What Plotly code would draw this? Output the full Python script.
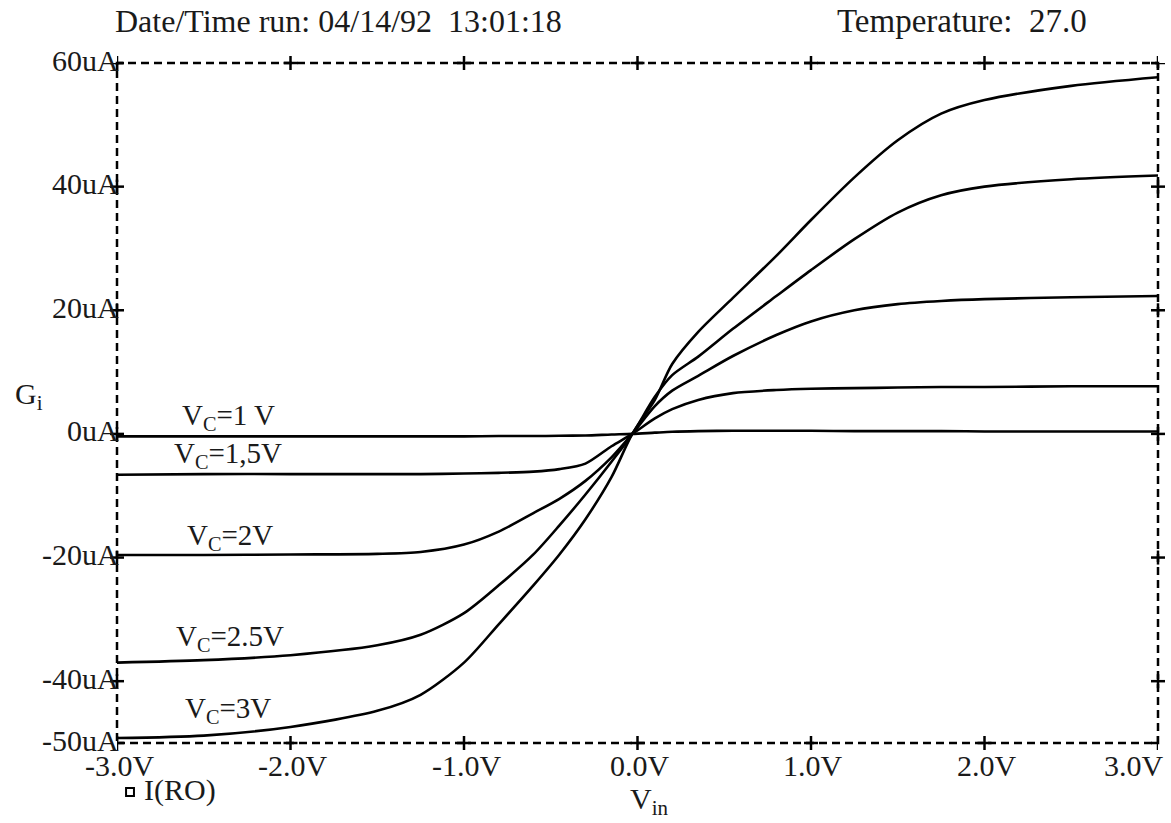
import plotly.graph_objects as go

# ---------------- data ----------------
vin = [-3.0, -2.5, -2.0, -1.5, -1.25, -1.0, -0.8, -0.6, -0.45, -0.3, -0.15, -0.03,
       0.1, 0.2, 0.35, 0.55, 0.8, 1.0, 1.25, 1.5, 1.75, 2.0, 2.5, 3.0]

i_vc1 = [-0.4, -0.4, -0.4, -0.4, -0.4, -0.4, -0.35, -0.35, -0.3, -0.25, -0.1, 0.0,
         0.2, 0.35, 0.45, 0.5, 0.5, 0.5, 0.45, 0.45, 0.45, 0.4, 0.4, 0.4]
i_vc15 = [-6.6, -6.5, -6.5, -6.5, -6.5, -6.4, -6.3, -6.1, -5.7, -4.8, -2.0, 0.0,
          2.5, 4.0, 5.5, 6.6, 7.1, 7.3, 7.4, 7.5, 7.6, 7.6, 7.7, 7.7]
i_vc2 = [-19.6, -19.6, -19.5, -19.4, -19.1, -17.9, -15.8, -12.8, -10.5, -7.6, -3.8, 0.0,
         4.5, 7.0, 9.4, 12.6, 16.0, 18.2, 20.0, 21.0, 21.5, 21.8, 22.1, 22.3]
i_vc25 = [-37.0, -36.6, -35.8, -34.2, -32.5, -29.0, -24.5, -19.5, -14.8, -9.8, -4.5, 0.0,
          6.0, 9.5, 12.5, 17.0, 22.3, 26.5, 31.5, 35.8, 38.6, 40.0, 41.2, 41.8]
i_vc3 = [-49.2, -48.8, -47.4, -44.8, -42.2, -37.0, -30.8, -24.5, -19.5, -13.8, -7.0, 0.0,
         5.5, 11.3, 16.5, 22.0, 28.8, 34.6, 41.5, 47.5, 51.8, 54.0, 56.3, 57.7]

series = [i_vc1, i_vc15, i_vc2, i_vc25, i_vc3]
curve_labels = ["V<sub>C</sub>=1 V", "V<sub>C</sub>=1,5V", "V<sub>C</sub>=2V",
                "V<sub>C</sub>=2.5V", "V<sub>C</sub>=3V"]
label_x = [-2.36, -2.36, -2.35, -2.35, -2.36]
label_y = [2.7, -3.4, -16.7, -33.0, -44.7]

x_ticks = [-3.0, -2.0, -1.0, 0.0, 1.0, 2.0, 3.0]
x_tick_text = ["-3.0V", "-2.0V", "-1.0V", "0.0V", "1.0V", "2.0V", "3.0V"]
y_ticks = [60, 40, 20, 0, -20, -40, -50]
y_tick_text = ["60uA", "40uA", "20uA", "0uA", "-20uA", "-40uA", "-50uA"]
y_cross_ticks = [60, 40, 20, 0, -20, -40]

FONT = "Liberation Serif, Times New Roman, serif"
INK = "#1a1a1a"

fig = go.Figure()
for ys in series:
    fig.add_trace(go.Scatter(x=vin, y=ys, mode="lines",
                             line=dict(color="black", width=2.6, shape="spline", smoothing=0.8),
                             showlegend=False, hoverinfo="skip"))

shapes = []
# dashed frame
shapes.append(dict(type="rect", xref="paper", yref="paper", x0=0, x1=1, y0=0, y1=1,
                   line=dict(color="black", width=2.5, dash="8px,5px")))
# "+" ticks on top and bottom
for xv in x_ticks:
    for yp in (0, 1):
        shapes.append(dict(type="line", xref="x", yref="paper", xsizemode="pixel", ysizemode="pixel",
                           xanchor=xv, yanchor=yp, x0=0, x1=0, y0=-7, y1=7,
                           line=dict(color="black", width=2.5)))
        shapes.append(dict(type="line", xref="x", yref="paper", xsizemode="pixel", ysizemode="pixel",
                           xanchor=xv, yanchor=yp, x0=-7, x1=7, y0=0, y1=0,
                           line=dict(color="black", width=2.5)))
# "+" ticks on left and right
for yv in y_cross_ticks:
    for xp in (0, 1):
        shapes.append(dict(type="line", xref="paper", yref="y", xsizemode="pixel", ysizemode="pixel",
                           xanchor=xp, yanchor=yv, x0=-7, x1=7, y0=0, y1=0,
                           line=dict(color="black", width=2.5)))
        shapes.append(dict(type="line", xref="paper", yref="y", xsizemode="pixel", ysizemode="pixel",
                           xanchor=xp, yanchor=yv, x0=0, x1=0, y0=-7, y1=7,
                           line=dict(color="black", width=2.5)))
# legend square
shapes.append(dict(type="rect", xref="paper", yref="paper",
                   x0=0.0087, x1=0.0163, y0=-0.0779, y1=-0.0662,
                   line=dict(color="black", width=2), fillcolor="white"))

annotations = []
for xv, txt in zip(x_ticks, x_tick_text):
    last = xv == x_ticks[-1]
    annotations.append(dict(x=xv, y=0, xref="x", yref="paper", text=txt, showarrow=False,
                            xanchor="right" if last else "center", yanchor="middle",
                            xshift=8 if last else 2, yshift=-22,
                            font=dict(family=FONT, size=30, color=INK)))
for yv, txt in zip(y_ticks, y_tick_text):
    annotations.append(dict(x=0, y=yv, xref="paper", yref="y", text=txt, showarrow=False,
                            xanchor="right", yanchor="middle", xshift=4, yshift=3,
                            font=dict(family=FONT, size=30, color=INK)))
for lx, ly, txt in zip(label_x, label_y, curve_labels):
    annotations.append(dict(x=lx, y=ly, xref="x", yref="y", text=txt, showarrow=False,
                            xanchor="center", yanchor="middle",
                            font=dict(family=FONT, size=29, color=INK)))
annotations += [
    dict(x=-0.004, y=1.062, xref="paper", yref="paper", xanchor="left", yanchor="middle",
         text="Date/Time run: 04/14/92&nbsp;&nbsp;13:01:18", showarrow=False,
         font=dict(family=FONT, size=32, color=INK)),
    dict(x=0.690, y=1.062, xref="paper", yref="paper", xanchor="left", yanchor="middle",
         text="Temperature:&nbsp;&nbsp;27.0", showarrow=False,
         font=dict(family=FONT, size=33, color=INK)),
    dict(x=-0.0995, y=0.51, xref="paper", yref="paper", xanchor="left", yanchor="middle",
         text="G<sub>i</sub>", showarrow=False,
         font=dict(family=FONT, size=30, color=INK)),
    dict(x=0.491, y=-0.085, xref="paper", yref="paper", xanchor="left", yanchor="middle",
         text="V<sub>in</sub>", showarrow=False,
         font=dict(family=FONT, size=30, color=INK)),
    dict(x=0.0240, y=-0.069, xref="paper", yref="paper", xanchor="left", yanchor="middle",
         text="I(RO)", showarrow=False,
         font=dict(family=FONT, size=30, color=INK)),
]

fig.update_layout(
    width=1171, height=823,
    margin=dict(l=117, r=13, t=63, b=80),
    paper_bgcolor="white", plot_bgcolor="white",
    showlegend=False,
    xaxis=dict(range=[-3, 3], showgrid=False, zeroline=False, showticklabels=False,
               ticks="", showline=False),
    yaxis=dict(range=[-50, 60], showgrid=False, zeroline=False, showticklabels=False,
               ticks="", showline=False),
    shapes=shapes,
    annotations=annotations,
)

fig.write_html("out.html")
